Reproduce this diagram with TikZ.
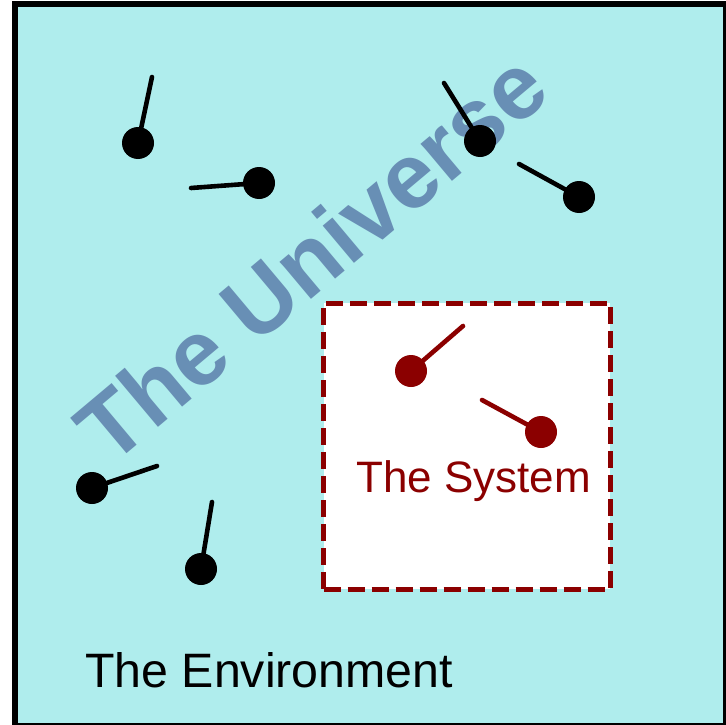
\documentclass[tikz,border=0pt]{standalone}
\usepackage{fontspec}
\setmainfont{Liberation Sans}
\definecolor{envbg}{RGB}{175,237,237}
\definecolor{univ}{RGB}{104,143,181}
\definecolor{sysred}{RGB}{139,0,0}
\tikzset{
  ball/.style={circle,fill=black,draw=none,minimum size=32pt,inner sep=0pt},
  redball/.style={ball,fill=sysred},
  stick/.style={line width=4.6pt,line cap=round,black},
  redstick/.style={stick,sysred},
}
\begin{document}
\begin{tikzpicture}[x=1pt,y=-1pt]
\useasboundingbox (0,0) rectangle (725,725);
% environment
\fill[envbg] (15,4.5) rectangle (726,725.5);
\draw[line width=6pt,black] (15,4.5) rectangle (726,725.5);
% universe label
\node[text=univ,font=\bfseries\fontsize{92}{100}\selectfont,rotate=40,inner sep=0pt] (universe) at (311,257) {The Universe};
% system box
\node[draw=sysred,fill=white,line width=5pt,dash pattern=on 17pt off 7pt,minimum width=286.5pt,minimum height=286pt,inner sep=0pt] (system) at (466.75,446) {};
% coordinates
\coordinate (c1) at (138,143); \coordinate (e1) at (152,77);
\coordinate (c2) at (259,183); \coordinate (e2) at (191,188);
\coordinate (c3) at (480,141); \coordinate (e3) at (444,83);
\coordinate (c4) at (579,197); \coordinate (e4) at (519,164);
\coordinate (c5) at (92,488);  \coordinate (e5) at (157,466);
\coordinate (c6) at (201,569); \coordinate (e6) at (212,502);
\coordinate (c7) at (411,371); \coordinate (e7) at (463,326);
\coordinate (c8) at (541,432); \coordinate (e8) at (482,400);
\foreach \i in {1,...,6} {\draw[stick] (c\i) -- (e\i);}
\foreach \i in {7,8} {\draw[redstick] (c\i) -- (e\i);}
\foreach \i in {1,...,6} {\node[ball] (b\i) at (c\i) {};}
\foreach \i in {7,8} {\node[redball] (b\i) at (c\i) {};}
% labels
\node[anchor=base west,inner sep=0pt,text=sysred,font=\fontsize{44}{50}\selectfont] (syslabel) at (356,492) {The System};
\node[anchor=base west,inner sep=0pt,text=black,font=\fontsize{48.3}{55}\selectfont] (envlabel) at (85,687) {The Environment};
\end{tikzpicture}
\end{document}
